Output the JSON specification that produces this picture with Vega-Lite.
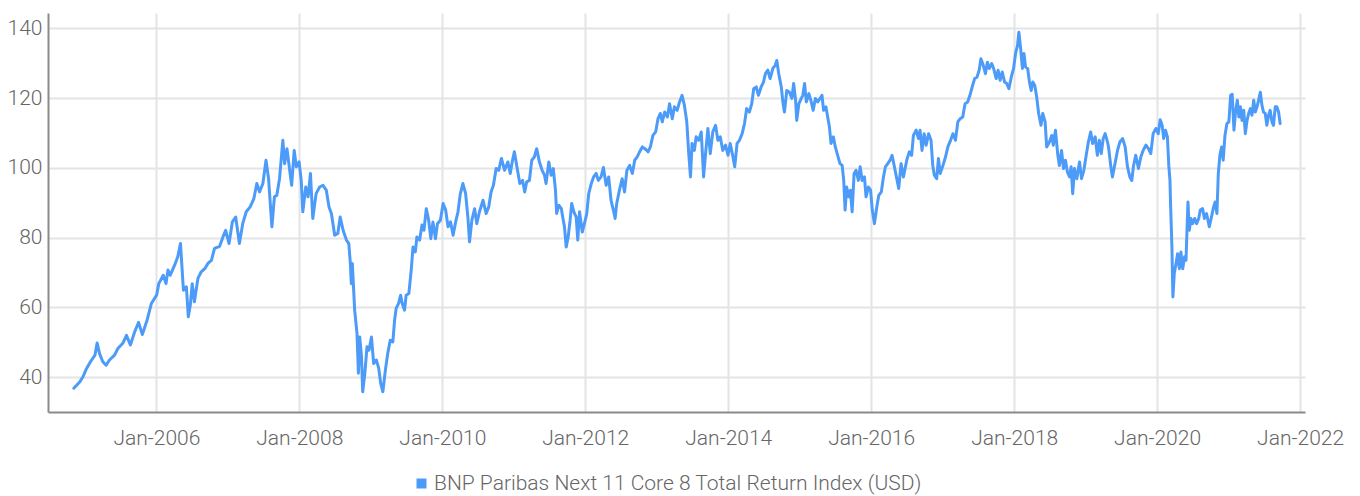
{
"$schema": "https://vega.github.io/schema/vega-lite/v6.json",
"width": 1257, "height": 399,
"autosize": {"type": "none"},
"padding": {"left": 48, "top": 13, "right": 55, "bottom": 84},
"background": "white",
"config": {"view": {"stroke": null}, "font": "Roboto", "axis": {"labelFontWeight": 300}, "legend": {"labelFontWeight": 300}},
"data": {"values": [
{"date":"2004-11-05","value":36.8},{"date":"2004-12-06","value":38.7},{"date":"2004-12-22","value":40.1},{"date":"2005-01-09","value":42.5},{"date":"2005-01-29","value":44.4},{"date":"2005-02-21","value":46.3},{"date":"2005-03-04","value":49.8},{"date":"2005-03-16","value":46.8},{"date":"2005-04-02","value":44.4},{"date":"2005-04-19","value":43.4},{"date":"2005-05-06","value":44.9},{"date":"2005-06-01","value":46.3},{"date":"2005-06-18","value":48.2},{"date":"2005-07-13","value":49.7},{"date":"2005-08-01","value":52.0},{"date":"2005-08-21","value":49.2},{"date":"2005-09-12","value":53.0},{"date":"2005-10-02","value":55.7},{"date":"2005-10-21","value":52.2},{"date":"2005-11-14","value":56.3},{"date":"2005-12-06","value":61.1},
{"date":"2006-01-02","value":63.5},{"date":"2006-01-13","value":66.8},{"date":"2006-02-05","value":69.2},{"date":"2006-02-19","value":66.8},{"date":"2006-03-01","value":70.7},{"date":"2006-03-12","value":69.2},{"date":"2006-04-04","value":72.1},{"date":"2006-04-20","value":74.5},{"date":"2006-05-04","value":78.3},{"date":"2006-05-19","value":64.9},{"date":"2006-06-03","value":65.9},{"date":"2006-06-13","value":57.3},{"date":"2006-06-23","value":60.6},{"date":"2006-07-03","value":66.8},{"date":"2006-07-14","value":61.6},{"date":"2006-08-01","value":68.3},{"date":"2006-08-18","value":70.2},{"date":"2006-09-05","value":71.1},{"date":"2006-09-21","value":72.6},{"date":"2006-10-09","value":73.5},{"date":"2006-10-25","value":76.9},{"date":"2006-11-20","value":77.5},{"date":"2006-12-07","value":80.2},{"date":"2006-12-21","value":82.1},
{"date":"2007-01-07","value":78.3},{"date":"2007-01-24","value":84.5},{"date":"2007-02-10","value":85.9},{"date":"2007-03-01","value":78.3},{"date":"2007-03-18","value":84.0},{"date":"2007-04-05","value":87.4},{"date":"2007-04-25","value":88.8},{"date":"2007-05-14","value":91.2},{"date":"2007-05-29","value":95.5},{"date":"2007-06-12","value":93.1},{"date":"2007-06-29","value":95.5},{"date":"2007-07-15","value":102.2},{"date":"2007-07-28","value":96.9},{"date":"2007-08-14","value":83.1},{"date":"2007-08-27","value":91.7},{"date":"2007-09-08","value":92.1},{"date":"2007-09-22","value":96.9},{"date":"2007-10-09","value":107.9},{"date":"2007-10-18","value":101.2},{"date":"2007-10-30","value":105.5},{"date":"2007-11-13","value":99.3},{"date":"2007-11-23","value":95.0},{"date":"2007-12-06","value":105.0},{"date":"2007-12-17","value":100.3},{"date":"2007-12-31","value":101.7},
{"date":"2008-01-11","value":96.4},{"date":"2008-01-19","value":87.4},{"date":"2008-02-03","value":94.5},{"date":"2008-02-15","value":91.7},{"date":"2008-02-27","value":98.4},{"date":"2008-03-10","value":85.5},{"date":"2008-03-27","value":92.6},{"date":"2008-04-14","value":94.5},{"date":"2008-05-01","value":95.0},{"date":"2008-05-18","value":93.6},{"date":"2008-06-01","value":88.8},{"date":"2008-06-13","value":86.9},{"date":"2008-06-30","value":80.7},{"date":"2008-07-16","value":81.2},{"date":"2008-07-28","value":85.9},{"date":"2008-08-12","value":82.1},{"date":"2008-08-29","value":79.3},{"date":"2008-09-10","value":78.3},{"date":"2008-09-18","value":72.6},{"date":"2008-09-23","value":66.8},{"date":"2008-09-28","value":72.6},{"date":"2008-10-10","value":59.2},{"date":"2008-10-22","value":52.5},{"date":"2008-10-29","value":41.1},{"date":"2008-11-05","value":51.5},{"date":"2008-11-14","value":45.8},{"date":"2008-11-20","value":35.8},{"date":"2008-12-01","value":41.1},{"date":"2008-12-12","value":48.7},{"date":"2008-12-22","value":47.7},
{"date":"2009-01-04","value":51.5},{"date":"2009-01-15","value":43.9},{"date":"2009-01-29","value":44.9},{"date":"2009-02-10","value":42.5},{"date":"2009-02-20","value":38.2},{"date":"2009-03-03","value":35.8},{"date":"2009-03-16","value":42.0},{"date":"2009-03-28","value":46.8},{"date":"2009-04-10","value":50.6},{"date":"2009-04-23","value":50.1},{"date":"2009-05-02","value":56.3},{"date":"2009-05-10","value":59.7},{"date":"2009-05-22","value":61.1},{"date":"2009-06-02","value":63.5},{"date":"2009-06-10","value":61.1},{"date":"2009-06-22","value":59.2},{"date":"2009-06-30","value":63.5},{"date":"2009-07-14","value":64.0},{"date":"2009-07-26","value":70.7},{"date":"2009-08-04","value":77.3},{"date":"2009-08-16","value":75.9},{"date":"2009-08-24","value":80.2},{"date":"2009-09-07","value":79.3},{"date":"2009-09-19","value":83.6},{"date":"2009-09-29","value":82.1},{"date":"2009-10-11","value":88.3},{"date":"2009-10-23","value":85.0},{"date":"2009-11-03","value":79.7},{"date":"2009-11-14","value":84.5},{"date":"2009-11-27","value":79.7},{"date":"2009-12-07","value":84.0},{"date":"2009-12-22","value":85.0},
{"date":"2010-01-05","value":89.8},{"date":"2010-01-18","value":87.9},{"date":"2010-01-30","value":83.1},{"date":"2010-02-12","value":84.5},{"date":"2010-02-25","value":80.7},{"date":"2010-03-10","value":84.5},{"date":"2010-03-22","value":87.4},{"date":"2010-04-03","value":92.6},{"date":"2010-04-16","value":95.5},{"date":"2010-04-30","value":92.6},{"date":"2010-05-12","value":85.5},{"date":"2010-05-20","value":78.8},{"date":"2010-06-01","value":85.0},{"date":"2010-06-15","value":88.3},{"date":"2010-06-26","value":84.0},{"date":"2010-07-10","value":87.5},{"date":"2010-07-28","value":90.7},{"date":"2010-08-13","value":86.9},{"date":"2010-08-26","value":88.8},{"date":"2010-09-07","value":93.1},{"date":"2010-09-19","value":95.0},{"date":"2010-10-03","value":99.8},{"date":"2010-10-16","value":99.3},{"date":"2010-10-30","value":102.7},{"date":"2010-11-15","value":99.3},{"date":"2010-12-02","value":101.7},{"date":"2010-12-14","value":98.4},{"date":"2010-12-24","value":101.7},
{"date":"2011-01-04","value":104.6},{"date":"2011-01-17","value":100.3},{"date":"2011-02-01","value":95.5},{"date":"2011-02-15","value":96.4},{"date":"2011-02-26","value":93.1},{"date":"2011-03-08","value":96.0},{"date":"2011-03-22","value":96.4},{"date":"2011-04-03","value":102.2},{"date":"2011-04-16","value":103.1},{"date":"2011-04-28","value":105.5},{"date":"2011-05-12","value":101.7},{"date":"2011-05-26","value":99.3},{"date":"2011-06-07","value":97.9},{"date":"2011-06-15","value":95.5},{"date":"2011-06-29","value":101.7},{"date":"2011-07-11","value":97.9},{"date":"2011-07-22","value":99.8},{"date":"2011-08-02","value":93.6},{"date":"2011-08-08","value":86.9},{"date":"2011-08-19","value":89.3},{"date":"2011-09-01","value":88.3},{"date":"2011-09-08","value":85.9},{"date":"2011-09-17","value":83.1},{"date":"2011-09-26","value":77.3},{"date":"2011-10-06","value":80.2},{"date":"2011-10-16","value":85.0},{"date":"2011-10-24","value":89.8},{"date":"2011-11-04","value":87.4},{"date":"2011-11-16","value":85.9},{"date":"2011-11-24","value":79.3},{"date":"2011-12-03","value":87.4},{"date":"2011-12-17","value":81.6},{"date":"2011-12-30","value":84.5},
{"date":"2012-01-09","value":86.9},{"date":"2012-01-19","value":92.6},{"date":"2012-02-01","value":95.5},{"date":"2012-02-13","value":97.4},{"date":"2012-02-26","value":98.4},{"date":"2012-03-08","value":96.4},{"date":"2012-03-22","value":97.4},{"date":"2012-04-03","value":100.1},{"date":"2012-04-17","value":95.0},{"date":"2012-04-30","value":97.4},{"date":"2012-05-12","value":90.7},{"date":"2012-05-24","value":87.9},{"date":"2012-06-02","value":85.5},{"date":"2012-06-10","value":89.8},{"date":"2012-06-24","value":93.6},{"date":"2012-07-08","value":96.9},{"date":"2012-07-20","value":93.1},{"date":"2012-08-01","value":99.3},{"date":"2012-08-15","value":100.7},{"date":"2012-08-29","value":98.4},{"date":"2012-09-10","value":102.2},{"date":"2012-09-22","value":103.1},{"date":"2012-10-05","value":104.6},{"date":"2012-10-19","value":106.0},{"date":"2012-11-01","value":105.5},{"date":"2012-11-17","value":104.6},{"date":"2012-11-29","value":106.0},{"date":"2012-12-12","value":109.3},{"date":"2012-12-26","value":110.3},
{"date":"2013-01-07","value":114.1},{"date":"2013-01-19","value":115.6},{"date":"2013-01-29","value":113.2},{"date":"2013-02-10","value":116.0},{"date":"2013-02-24","value":114.6},{"date":"2013-03-07","value":118.4},{"date":"2013-03-21","value":114.1},{"date":"2013-04-01","value":117.5},{"date":"2013-04-15","value":116.5},{"date":"2013-04-27","value":118.9},{"date":"2013-05-10","value":120.8},{"date":"2013-05-22","value":117.9},{"date":"2013-06-03","value":113.2},{"date":"2013-06-12","value":105.0},{"date":"2013-06-22","value":97.4},{"date":"2013-06-30","value":107.0},{"date":"2013-07-12","value":105.0},{"date":"2013-07-21","value":108.9},{"date":"2013-08-03","value":107.9},{"date":"2013-08-16","value":110.3},{"date":"2013-08-28","value":97.4},{"date":"2013-09-07","value":104.1},{"date":"2013-09-19","value":111.3},{"date":"2013-10-01","value":104.1},{"date":"2013-10-14","value":110.3},{"date":"2013-10-28","value":112.2},{"date":"2013-11-09","value":107.9},{"date":"2013-11-21","value":108.9},{"date":"2013-12-04","value":105.0},{"date":"2013-12-18","value":106.5},{"date":"2013-12-31","value":103.6},
{"date":"2014-01-11","value":107.0},{"date":"2014-01-25","value":103.1},{"date":"2014-02-03","value":100.3},{"date":"2014-02-15","value":107.0},{"date":"2014-02-27","value":107.9},{"date":"2014-03-13","value":109.8},{"date":"2014-03-25","value":112.7},{"date":"2014-04-05","value":117.0},{"date":"2014-04-19","value":116.0},{"date":"2014-05-01","value":118.4},{"date":"2014-05-11","value":122.7},{"date":"2014-05-24","value":123.2},{"date":"2014-06-04","value":120.8},{"date":"2014-06-18","value":123.2},{"date":"2014-06-30","value":124.6},{"date":"2014-07-10","value":127.0},{"date":"2014-07-22","value":128.0},{"date":"2014-08-03","value":125.6},{"date":"2014-08-17","value":128.5},{"date":"2014-08-29","value":129.4},{"date":"2014-09-06","value":130.8},{"date":"2014-09-16","value":127.0},{"date":"2014-09-29","value":123.2},{"date":"2014-10-07","value":118.9},{"date":"2014-10-15","value":116.0},{"date":"2014-10-27","value":122.2},{"date":"2014-11-10","value":121.7},{"date":"2014-11-22","value":119.9},{"date":"2014-12-01","value":124.2},{"date":"2014-12-11","value":119.4},{"date":"2014-12-17","value":113.6},{"date":"2014-12-28","value":118.4},
{"date":"2015-01-09","value":119.9},{"date":"2015-01-17","value":120.8},{"date":"2015-01-26","value":124.2},{"date":"2015-02-04","value":118.9},{"date":"2015-02-17","value":121.3},{"date":"2015-03-01","value":118.9},{"date":"2015-03-11","value":116.5},{"date":"2015-03-22","value":119.9},{"date":"2015-04-03","value":118.9},{"date":"2015-04-15","value":119.9},{"date":"2015-04-25","value":120.8},{"date":"2015-05-03","value":116.5},{"date":"2015-05-15","value":117.5},{"date":"2015-05-24","value":114.6},{"date":"2015-06-02","value":111.7},{"date":"2015-06-10","value":107.0},{"date":"2015-06-22","value":108.9},{"date":"2015-07-02","value":106.0},{"date":"2015-07-14","value":103.6},{"date":"2015-07-26","value":101.2},{"date":"2015-08-06","value":100.7},{"date":"2015-08-14","value":96.4},{"date":"2015-08-21","value":87.9},{"date":"2015-08-29","value":94.5},{"date":"2015-09-08","value":91.7},{"date":"2015-09-17","value":93.6},{"date":"2015-09-26","value":87.4},{"date":"2015-10-06","value":98.4},{"date":"2015-10-16","value":99.3},{"date":"2015-10-28","value":96.4},{"date":"2015-11-06","value":100.3},{"date":"2015-11-16","value":96.4},{"date":"2015-11-28","value":97.4},{"date":"2015-12-06","value":91.7},{"date":"2015-12-18","value":94.5},{"date":"2015-12-29","value":93.6},
{"date":"2016-01-07","value":87.9},{"date":"2016-01-18","value":84.0},{"date":"2016-01-30","value":88.8},{"date":"2016-02-09","value":92.1},{"date":"2016-02-22","value":93.1},{"date":"2016-03-04","value":97.4},{"date":"2016-03-14","value":100.3},{"date":"2016-03-26","value":101.2},{"date":"2016-04-07","value":102.2},{"date":"2016-04-17","value":103.6},{"date":"2016-04-29","value":100.3},{"date":"2016-05-11","value":96.9},{"date":"2016-05-21","value":94.1},{"date":"2016-06-02","value":101.2},{"date":"2016-06-14","value":97.4},{"date":"2016-07-01","value":102.2},{"date":"2016-07-14","value":104.6},{"date":"2016-07-26","value":103.6},{"date":"2016-08-04","value":109.3},{"date":"2016-08-18","value":110.8},{"date":"2016-08-30","value":108.4},{"date":"2016-09-07","value":110.8},{"date":"2016-09-17","value":105.0},{"date":"2016-09-28","value":109.8},{"date":"2016-10-08","value":106.5},{"date":"2016-10-21","value":109.8},{"date":"2016-11-02","value":107.9},{"date":"2016-11-11","value":100.7},{"date":"2016-11-19","value":97.9},{"date":"2016-12-01","value":96.9},{"date":"2016-12-10","value":102.7},{"date":"2016-12-19","value":98.4},
{"date":"2017-01-02","value":100.7},{"date":"2017-01-15","value":103.1},{"date":"2017-01-27","value":106.0},{"date":"2017-02-10","value":107.9},{"date":"2017-02-22","value":109.8},{"date":"2017-03-07","value":107.9},{"date":"2017-03-19","value":113.2},{"date":"2017-03-31","value":114.1},{"date":"2017-04-13","value":114.6},{"date":"2017-04-25","value":118.4},{"date":"2017-05-08","value":118.9},{"date":"2017-05-20","value":120.8},{"date":"2017-06-03","value":123.7},{"date":"2017-06-13","value":125.6},{"date":"2017-06-25","value":126.0},{"date":"2017-07-06","value":128.0},{"date":"2017-07-15","value":131.3},{"date":"2017-07-27","value":129.4},{"date":"2017-08-07","value":127.0},{"date":"2017-08-17","value":130.3},{"date":"2017-08-27","value":128.5},{"date":"2017-09-08","value":129.9},{"date":"2017-09-18","value":128.5},{"date":"2017-10-01","value":125.6},{"date":"2017-10-11","value":128.0},{"date":"2017-10-21","value":125.1},{"date":"2017-11-01","value":127.5},{"date":"2017-11-13","value":124.6},{"date":"2017-11-24","value":124.2},{"date":"2017-12-05","value":122.7},{"date":"2017-12-17","value":126.0},{"date":"2017-12-29","value":128.5},
{"date":"2018-01-08","value":132.8},{"date":"2018-01-18","value":135.1},{"date":"2018-01-25","value":138.9},{"date":"2018-02-03","value":134.2},{"date":"2018-02-12","value":128.5},{"date":"2018-02-20","value":132.8},{"date":"2018-02-28","value":128.9},{"date":"2018-03-11","value":128.5},{"date":"2018-03-20","value":124.6},{"date":"2018-03-29","value":122.2},{"date":"2018-04-06","value":124.6},{"date":"2018-04-16","value":123.7},{"date":"2018-04-26","value":120.3},{"date":"2018-05-06","value":115.6},{"date":"2018-05-18","value":112.2},{"date":"2018-05-27","value":115.6},{"date":"2018-06-08","value":113.2},{"date":"2018-06-16","value":106.0},{"date":"2018-06-30","value":107.4},{"date":"2018-07-12","value":109.3},{"date":"2018-07-20","value":106.5},{"date":"2018-07-31","value":110.8},{"date":"2018-08-12","value":103.6},{"date":"2018-08-20","value":100.7},{"date":"2018-08-31","value":105.0},{"date":"2018-09-10","value":99.8},{"date":"2018-09-20","value":102.2},{"date":"2018-09-30","value":98.8},{"date":"2018-10-11","value":97.4},{"date":"2018-10-19","value":100.3},{"date":"2018-10-27","value":92.6},{"date":"2018-11-05","value":99.8},{"date":"2018-11-17","value":96.9},{"date":"2018-12-01","value":101.7},{"date":"2018-12-11","value":96.9},{"date":"2018-12-23","value":99.3},
{"date":"2019-01-04","value":103.6},{"date":"2019-01-15","value":107.4},{"date":"2019-01-27","value":110.3},{"date":"2019-02-06","value":107.0},{"date":"2019-02-19","value":108.9},{"date":"2019-03-02","value":103.6},{"date":"2019-03-12","value":107.9},{"date":"2019-03-22","value":104.1},{"date":"2019-04-01","value":108.4},{"date":"2019-04-11","value":109.8},{"date":"2019-04-23","value":107.4},{"date":"2019-04-28","value":106.0},{"date":"2019-05-10","value":100.3},{"date":"2019-05-18","value":97.4},{"date":"2019-05-31","value":101.2},{"date":"2019-06-13","value":105.0},{"date":"2019-06-25","value":107.4},{"date":"2019-07-09","value":108.4},{"date":"2019-07-22","value":106.0},{"date":"2019-08-03","value":100.3},{"date":"2019-08-15","value":97.4},{"date":"2019-08-25","value":96.4},{"date":"2019-09-02","value":100.3},{"date":"2019-09-14","value":103.6},{"date":"2019-09-28","value":99.8},{"date":"2019-10-10","value":103.1},{"date":"2019-10-22","value":105.0},{"date":"2019-11-05","value":106.5},{"date":"2019-11-18","value":105.5},{"date":"2019-11-30","value":104.1},{"date":"2019-12-12","value":109.8},{"date":"2019-12-26","value":111.3},
{"date":"2020-01-07","value":109.8},{"date":"2020-01-17","value":113.8},{"date":"2020-01-27","value":112.2},{"date":"2020-02-04","value":108.4},{"date":"2020-02-13","value":110.8},{"date":"2020-02-23","value":108.9},{"date":"2020-03-01","value":100.7},{"date":"2020-03-07","value":96.4},{"date":"2020-03-10","value":89.8},{"date":"2020-03-17","value":77.3},{"date":"2020-03-22","value":63.0},{"date":"2020-03-29","value":69.7},{"date":"2020-04-07","value":72.6},{"date":"2020-04-15","value":75.4},{"date":"2020-04-24","value":71.1},{"date":"2020-05-02","value":75.9},{"date":"2020-05-11","value":71.1},{"date":"2020-05-21","value":74.5},{"date":"2020-05-28","value":73.5},{"date":"2020-06-02","value":82.1},{"date":"2020-06-07","value":90.2},{"date":"2020-06-14","value":82.1},{"date":"2020-06-22","value":85.5},{"date":"2020-07-01","value":84.0},{"date":"2020-07-11","value":85.5},{"date":"2020-07-21","value":84.0},{"date":"2020-08-01","value":85.5},{"date":"2020-08-09","value":87.9},{"date":"2020-08-21","value":88.3},{"date":"2020-08-30","value":85.5},{"date":"2020-09-10","value":86.9},{"date":"2020-09-24","value":83.1},{"date":"2020-10-05","value":85.9},{"date":"2020-10-16","value":88.8},{"date":"2020-10-24","value":90.2},{"date":"2020-11-02","value":86.9},{"date":"2020-11-09","value":98.4},{"date":"2020-11-17","value":103.6},{"date":"2020-11-26","value":106.0},{"date":"2020-12-04","value":102.2},{"date":"2020-12-13","value":109.3},{"date":"2020-12-23","value":112.7},
{"date":"2021-01-02","value":113.2},{"date":"2021-01-11","value":120.8},{"date":"2021-01-19","value":121.1},{"date":"2021-01-28","value":110.8},{"date":"2021-02-05","value":116.0},{"date":"2021-02-14","value":119.4},{"date":"2021-02-22","value":114.6},{"date":"2021-03-02","value":117.5},{"date":"2021-03-10","value":113.6},{"date":"2021-03-19","value":116.5},{"date":"2021-03-27","value":109.8},{"date":"2021-04-05","value":113.6},{"date":"2021-04-13","value":115.6},{"date":"2021-04-22","value":117.0},{"date":"2021-04-30","value":115.1},{"date":"2021-05-09","value":119.4},{"date":"2021-05-17","value":116.0},{"date":"2021-05-26","value":117.5},{"date":"2021-06-03","value":119.4},{"date":"2021-06-12","value":121.7},{"date":"2021-06-20","value":117.9},{"date":"2021-06-28","value":116.0},{"date":"2021-07-07","value":115.6},{"date":"2021-07-15","value":112.2},{"date":"2021-07-24","value":115.1},{"date":"2021-08-01","value":116.5},{"date":"2021-08-10","value":113.2},{"date":"2021-08-18","value":112.2},{"date":"2021-08-27","value":117.5},{"date":"2021-09-04","value":117.5},{"date":"2021-09-13","value":116.0},{"date":"2021-09-21","value":112.7}
]},
"mark": {"type": "line", "strokeWidth": 3, "strokeJoin": "round", "strokeCap": "round"},
"encoding": {
  "x": {"field": "date", "type": "temporal",
    "scale": {"type": "utc", "domain": [{"year": 2004, "month": 6, "date": 26, "utc": true}, {"year": 2022, "month": 1, "date": 26, "utc": true}]},
    "axis": {"title": null, "format": "%b-%Y", "labelFlush": false, "labelOverlap": false,
      "values": [{"year":2006,"month":1,"date":1,"utc":true},{"year":2008,"month":1,"date":1,"utc":true},{"year":2010,"month":1,"date":1,"utc":true},{"year":2012,"month":1,"date":1,"utc":true},{"year":2014,"month":1,"date":1,"utc":true},{"year":2016,"month":1,"date":1,"utc":true},{"year":2018,"month":1,"date":1,"utc":true},{"year":2020,"month":1,"date":1,"utc":true},{"year":2022,"month":1,"date":1,"utc":true}],
      "ticks": false, "labelPadding": 15, "labelFontSize": 21, "labelColor": "#666666",
      "domainColor": "#8a8a8a", "domainWidth": 2, "grid": true, "gridColor": "#e4e4e4", "gridWidth": 2}},
  "y": {"field": "value", "type": "quantitative",
    "scale": {"domain": [30, 144.4], "nice": false, "zero": false},
    "axis": {"title": null, "values": [40, 60, 80, 100, 120, 140], "ticks": false, "labelPadding": 6, "labelFontSize": 21, "labelColor": "#666666",
      "domainColor": "#8a8a8a", "domainWidth": 2, "grid": true, "gridColor": "#e4e4e4", "gridWidth": 2}},
  "color": {"datum": "BNP Paribas Next 11 Core 8 Total Return Index (USD)",
    "scale": {"range": ["#4c9bf9"]},
    "legend": {"title": null, "orient": "none", "legendX": 363, "legendY": 460, "padding": 0,
      "symbolType": "square", "symbolSize": 100, "symbolStrokeWidth": 0, "symbolFillColor": "#4c9bf9",
      "labelFontSize": 21, "labelColor": "#666666", "labelOffset": 2,
      "labelLimit": 0}}
}
}
